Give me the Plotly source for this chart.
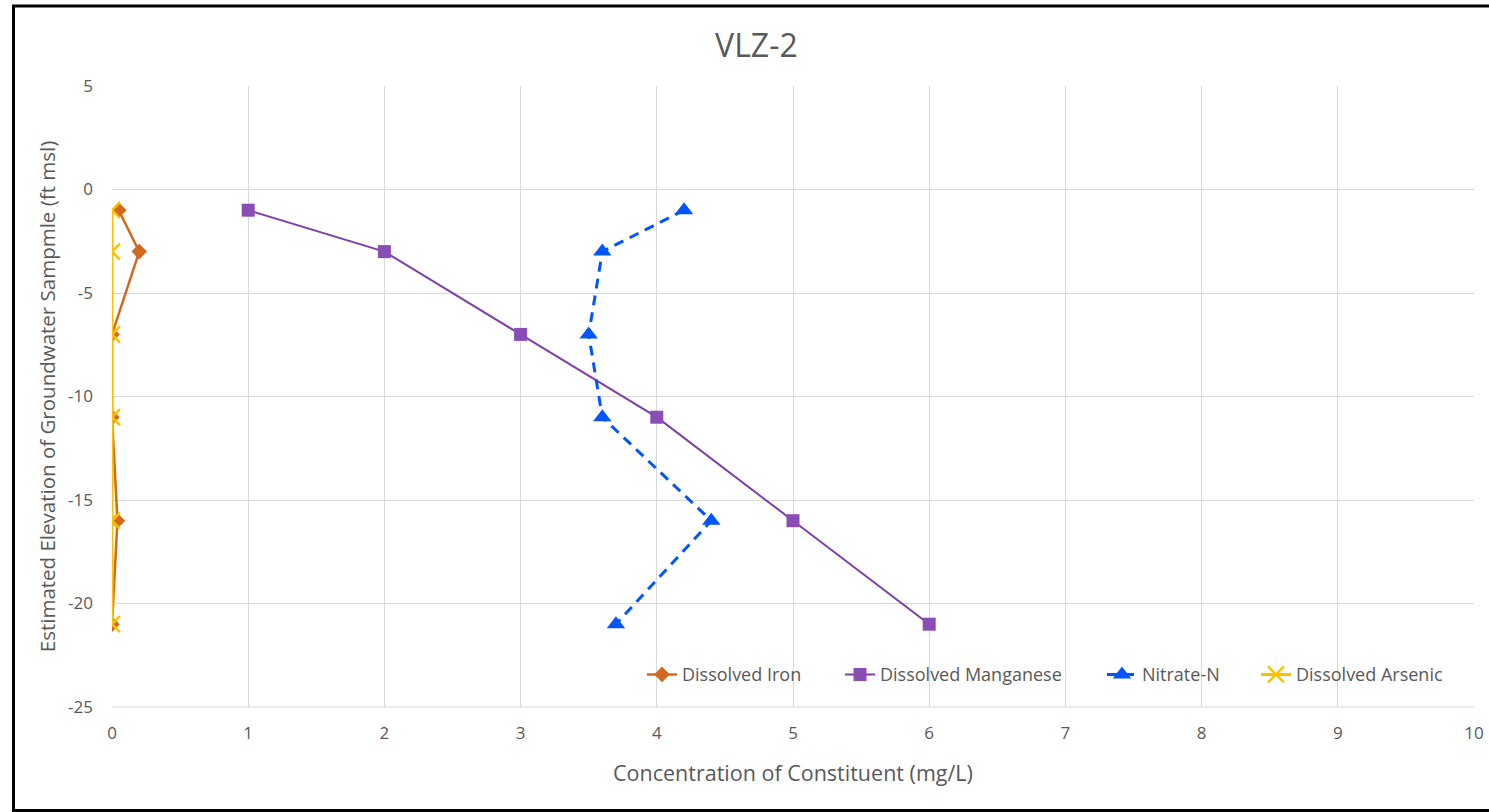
import plotly.graph_objects as go

elevation = [-1, -3, -7, -11, -16, -21]
iron = [0.05, 0.2, 0.0, 0.0, 0.04, 0.0]
manganese = [1, 2, 3, 4, 5, 6]
nitrate = [4.2, 3.6, 3.5, 3.6, 4.4, 3.7]
arsenic = [0.0, 0.0, 0.0, 0.0, 0.0, 0.0]
y_ticks = [5, 0, -5, -10, -15, -20, -25]
y_ticktext = ["5", "0", "-5", "-10", "-15", "-20", "-25"]

FONT = "Open Sans"
GREY = "#595959"

fig = go.Figure()
fig.add_trace(go.Scatter(x=iron, y=elevation, name="Dissolved Iron", mode="lines+markers",
                         line=dict(color="#D2691E", width=2.5), legend="legend",
                         marker=dict(symbol="diamond", size=12, color="#D2691E")))
fig.add_trace(go.Scatter(x=manganese, y=elevation, name="Dissolved Manganese", mode="lines+markers",
                         line=dict(color="#7E3FA6", width=2), legend="legend2",
                         marker=dict(symbol="square", size=13, color="#8A4CB5")))
fig.add_trace(go.Scatter(x=nitrate, y=elevation, name="Nitrate-N", mode="lines+markers",
                         line=dict(color="#0055FF", width=3, dash="10px,7px"), legend="legend3",
                         marker=dict(symbol="triangle-up", size=16, color="#0055FF")))
fig.add_trace(go.Scatter(x=arsenic, y=elevation, name="Dissolved Arsenic", mode="lines+markers",
                         line=dict(color="#FFC000", width=3), legend="legend4",
                         marker=dict(symbol="x-thin", size=16, color="#FFC000",
                                     line=dict(color="#FFC000", width=2.5))))


def leg(text_px):
    return dict(orientation="h", x=(text_px - 41 - 112) / 1362, xanchor="left",
                y=0.052, yanchor="middle", bgcolor="rgba(255,255,255,0)",
                font=dict(size=18, color=GREY, family=FONT), itemwidth=30)


fig.update_layout(
    width=1489, height=812,
    margin=dict(l=112, r=15, t=86, b=105),
    paper_bgcolor="white", plot_bgcolor="white",
    font=dict(family=FONT, color=GREY, size=17),
    title=dict(text="VLZ-2", x=0.508, xanchor="center", y=0.944, yanchor="middle",
               font=dict(size=32, color=GREY, family=FONT)),
    legend=leg(683), legend2=leg(881), legend3=leg(1143), legend4=leg(1297),
    showlegend=True,
)
fig.update_xaxes(range=[0, 10], dtick=1, showgrid=True, gridcolor="#D9D9D9", gridwidth=1,
                 zeroline=False, showline=False, ticks="", tickfont=dict(size=17, color=GREY),
                 ticklabelstandoff=14, automargin=False,
                 title=dict(text="Concentration of Constituent (mg/L)", font=dict(size=21.5, color=GREY),
                            standoff=22))
fig.update_yaxes(range=[-25, 5], tickvals=y_ticks, ticktext=y_ticktext, showgrid=True,
                 gridcolor="#D9D9D9", gridwidth=1,
                 zeroline=False, showline=False, ticks="", tickfont=dict(size=17, color=GREY),
                 ticklabelstandoff=18, automargin=False,
                 title=dict(text="Estimated Elevation of Groundwater Sampmle (ft msl)",
                            font=dict(size=20.5, color=GREY), standoff=6))
# bottom axis line
fig.add_shape(type="line", xref="paper", yref="paper", x0=0, x1=1, y0=0, y1=0,
              line=dict(color="#D9D9D9", width=1))
# outer chart border
fig.add_shape(type="rect", xref="paper", yref="paper",
              x0=(13.5 - 112) / 1362, x1=(1495 - 112) / 1362,
              y0=(707 - 810.5) / 621, y1=(707 - 6) / 621,
              line=dict(color="black", width=3), fillcolor="rgba(0,0,0,0)", layer="below")

fig.write_html("out.html")
